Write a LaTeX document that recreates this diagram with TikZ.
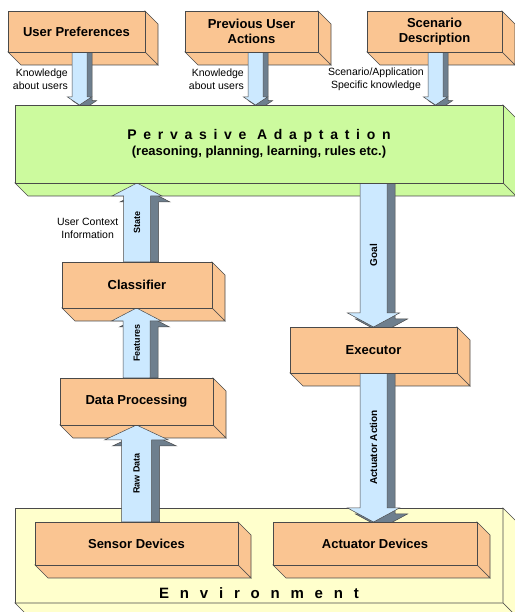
\documentclass[tikz,border=0pt]{standalone}
\usepackage{fontspec}
\setmainfont{Liberation Sans}
\newfontfamily\spacedfont[LetterSpace=48]{Liberation Sans}
\newfontfamily\widefont[LetterSpace=72]{Liberation Sans}
\usetikzlibrary{calc,positioning}

\definecolor{boxorange}{HTML}{FAC592}
\definecolor{adaptgreen}{HTML}{CCFA9E}
\definecolor{envyellow}{HTML}{FFFFCC}
\definecolor{flowblue}{HTML}{CCE9FF}
\definecolor{flowdark}{HTML}{6E7F8E}
\definecolor{boxline}{HTML}{4A4A4A}

\pgfdeclarelayer{envlayer}
\pgfdeclarelayer{depth}
\pgfdeclarelayer{flow}
\pgfsetlayers{envlayer,depth,flow,main}

% side and bottom faces of a box, pushed to the lower right
\newcommand{\extrude}[3]{%
  \begin{pgfonlayer}{#1}
    \draw[boxline, line width=0.6pt, fill=#3] (#2.north east) -- ++(13,-13) -- ($(#2.south east)+(13,-13)$) -- (#2.south east) -- cycle;
    \draw[boxline, line width=0.6pt, fill=#3] (#2.south west) -- ++(13,-13) -- ($(#2.south east)+(13,-13)$) -- (#2.south east) -- cycle;
  \end{pgfonlayer}}

% thick arrow with a dark shade: tail, tip, shaft half width, head half width, head length, shade
\newcommand{\blockarrow}[6]{%
  \begin{pgfonlayer}{flow}
    \draw[boxline, line width=0.5pt, fill=flowdark] let \p1=(#1), \p2=(#2), \n1={#5*sign(\y2-\y1)} in
      (\x1+#3+#6,\y1) -- (\x1+#3+#6,\y2-\n1-0.75*#6) -- (\x1+#4+#6,\y2-\n1-0.75*#6) -- (\x1+#6,\y2-0.75*#6)
      -- (\x1-#4+#6,\y2-\n1-0.75*#6) -- (\x1-#3+#6,\y2-\n1-0.75*#6) -- (\x1-#3+#6,\y1) -- cycle;
    \draw[boxline, line width=0.5pt, fill=flowblue] let \p1=(#1), \p2=(#2), \n1={#5*sign(\y2-\y1)} in
      (\x1+#3,\y1) -- (\x1+#3,\y2-\n1) -- (\x1+#4,\y2-\n1) -- (\x1,\y2)
      -- (\x1-#4,\y2-\n1) -- (\x1-#3,\y2-\n1) -- (\x1-#3,\y1) -- cycle;
  \end{pgfonlayer}}

\begin{document}
\begin{tikzpicture}[x=1pt,y=1pt,
  block/.style={draw=boxline, fill=boxorange, line width=0.6pt, outer sep=0pt, align=center,
    font=\fontsize{13}{15}\selectfont\bfseries},
  flowtext/.style={rotate=90, inner sep=0pt, font=\fontsize{9}{10}\selectfont\bfseries},
  sidetext/.style={inner sep=0pt, align=right, font=\fontsize{10.5}{13}\selectfont}]
  \useasboundingbox (0,0) rectangle (514,612);

  % environment at the bottom
  \begin{pgfonlayer}{envlayer}
    \node[block, fill=envyellow, minimum width=488pt, minimum height=95pt] (env) at (259,56.5) {};
  \end{pgfonlayer}
  \extrude{envlayer}{env}{envyellow}
  \node[anchor=base, font=\fontsize{15}{17}\widefont\bfseries] (envname) at ($(env.south)+(0,4)$) {Environment};

  % knowledge sources
  \node[block, minimum width=137pt, minimum height=41pt] (pref) at (76.5,580.5) {User Preferences};
  \node[block, minimum width=133pt, minimum height=41pt] (prev) at (251.5,580.5) {Previous User\\Actions};
  \node[block, minimum width=135pt, minimum height=41pt] (scen) at (434.5,580.5) {Scenario\\Description};

  \node[block, fill=adaptgreen, minimum width=488pt, minimum height=78pt] (pa) at (259,468)
    {{\fontsize{14}{16}\spacedfont\bfseries Pervasive Adaptation}\\[1pt]
     {\fontsize{13}{15}\selectfont (reasoning, planning, learning, rules etc.)}};

  \node[block, minimum width=150pt, minimum height=46pt] (clf) at (137,327) {Classifier};
  \node[block, minimum width=153pt, minimum height=47pt] (dp) at (136.5,210.5) {Data Processing};
  \node[block, minimum width=167pt, minimum height=46pt] (exec) at (373.5,262) {Executor};
  \node[block, minimum width=203pt, minimum height=43pt] (sensor) at (136.5,68.5) {Sensor Devices};
  \node[block, minimum width=204pt, minimum height=43pt] (act) at (375,68.5) {Actuator Devices};

  \foreach \b/\c in {pref/boxorange, prev/boxorange, scen/boxorange, pa/adaptgreen, clf/boxorange,
                     dp/boxorange, exec/boxorange, sensor/boxorange, act/boxorange}
    {\extrude{depth}{\b}{\c}}

  % arrows
  \blockarrow{$(pref.south)+(3,0)$}{pa.north}{7.5}{12}{8}{5}
  \blockarrow{$(prev.south)+(4,0)$}{pa.north}{7.5}{12}{8}{5}
  \blockarrow{$(scen.south)+(1,0)$}{pa.north}{7.5}{12}{8}{5}
  \blockarrow{clf.north}{pa.south}{13.5}{25}{13}{8}
  \blockarrow{dp.north}{clf.south}{13.5}{25}{13}{8}
  \blockarrow{sensor.north}{dp.south}{15}{32}{15}{8}
  \blockarrow{exec.north |- pa.south}{exec.north}{13.5}{26}{14}{8}
  \blockarrow{exec.south}{act.north}{13.5}{26}{14}{8}

  % arrow texts
  \node[flowtext] (lstate) at ($(clf.north)!.5!(clf.north |- pa.south)$) {State};
  \node[flowtext] (lfeat) at ($(dp.north)!.5!(clf.south)$) {Features};
  \node[flowtext] (lraw) at ($(sensor.north)!.5!(dp.south)$) {Raw Data};
  \node[flowtext, font=\fontsize{10}{11}\selectfont\bfseries] (lgoal) at ($(exec.north)!.5!(exec.north |- pa.south)$) {Goal};
  \node[flowtext, font=\fontsize{10}{11}\selectfont\bfseries] (lact) at ($(exec.south)!.5!(exec.south |- act.north)$) {Actuator Action};

  \node[sidetext, anchor=east] (kn1) at ($(pref.south)+(-8.5,-27)$) {Knowledge\\about users};
  \node[sidetext, anchor=east] (kn2) at ($(prev.south)+(-7.5,-27)$) {Knowledge\\about users};
  \node[sidetext, anchor=east, align=center] (kn3) at ($(scen.south)+(-10.5,-27)$) {Scenario/Application\\Specific knowledge};
  \node[sidetext, anchor=east, align=center] (ucx) at ($(lstate)+(-18.5,-6)$) {User Context\\Information};
\end{tikzpicture}
\end{document}
